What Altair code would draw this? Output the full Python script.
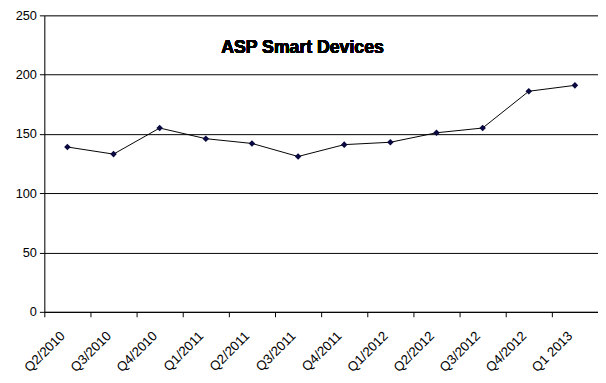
import altair as alt
import pandas as pd

quarters = ["Q2/2010", "Q3/2010", "Q4/2010", "Q1/2011", "Q2/2011", "Q3/2011",
            "Q4/2011", "Q1/2012", "Q2/2012", "Q3/2012", "Q4/2012", "Q1 2013"]
asp = [139, 133, 155, 146, 142, 131, 141, 143, 151, 155, 186, 191]

df = pd.DataFrame({"quarter": quarters, "asp": asp})

FONT = "Liberation Sans"

x = alt.X("quarter:N", sort=quarters, title=None,
          scale=alt.Scale(paddingInner=0, paddingOuter=0),
          axis=alt.Axis(labelAngle=-45, labelAlign="right", labelBaseline="middle",
                        labelFontSize=13.5, labelFont=FONT, labelColor="black",
                        labelPadding=17, labelOffset=-5, tickBand="extent",
                        tickColor="black", tickSize=5, domainColor="black",
                        grid=False, labelLimit=200))
y = alt.Y("asp:Q", title=None,
          scale=alt.Scale(domain=[0, 250], nice=False),
          axis=alt.Axis(values=[0, 50, 100, 150, 200, 250], labelFontSize=13,
                        labelFont=FONT, labelColor="black", tickColor="black",
                        tickSize=5, domainColor="black", gridColor="black",
                        gridOpacity=1, labelPadding=3))

line = alt.Chart(df).mark_line(color="black", strokeWidth=1).encode(x=x, y=y)
pts = alt.Chart(df).mark_point(shape="diamond", filled=True, color="#0a0a40",
                               size=45, opacity=1).encode(x=x, y=y)

title = alt.Chart(df).mark_text(text="ASP Smart Devices", font=FONT, fontSize=18,
                                fontWeight="bold", color="black").encode(
    x=alt.value(263), y=alt.value(33))

chart = (line + pts + title).properties(
    width=564, height=302,
    autosize=alt.AutoSizeParams(type="none"),
    padding={"left": 37, "top": 4, "right": 0, "bottom": 70},
).configure_view(stroke=None).configure(background="white")

chart.save("out.html", embed_options={"renderer": "svg", "actions": False})
